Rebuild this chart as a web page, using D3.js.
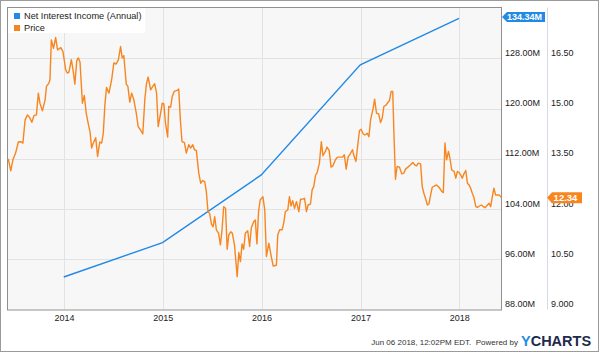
<!DOCTYPE html>
<html>
<head>
<meta charset="utf-8">
<script src="https://cdn.jsdelivr.net/npm/d3@7"></script>
<style>
  body { margin: 0; background: #fff; }
  text { font-family: "Liberation Sans", Arial, sans-serif; }
</style>
</head>
<body>
<script>
// annual net interest income (millions), plotted at fiscal year end
var niiDates = ['2013-12-31', '2014-12-31', '2015-12-31', '2016-12-31', '2017-12-31'];
var niiValues = [93.18, 98.65, 109.43, 126.96, 134.34];

// share price
var priceDates = [
  '2013-06-09','2013-06-18','2013-06-26','2013-07-06','2013-07-16','2013-07-25','2013-08-02','2013-08-10',
  '2013-08-19','2013-08-27','2013-09-04','2013-09-12','2013-09-21','2013-09-28','2013-10-04','2013-10-13',
  '2013-10-23','2013-10-28','2013-11-06','2013-11-10','2013-11-15','2013-11-23','2013-12-01','2013-12-08',
  '2013-12-20','2013-12-28','2014-01-07','2014-01-13','2014-01-19','2014-01-28','2014-02-04','2014-02-10',
  '2014-02-17','2014-02-23','2014-03-01','2014-03-10','2014-03-17','2014-03-24','2014-04-01','2014-04-07',
  '2014-04-13','2014-04-19','2014-04-28','2014-05-05','2014-05-13','2014-05-20','2014-05-26','2014-06-01',
  '2014-06-07','2014-06-16','2014-06-26','2014-07-04','2014-07-13','2014-07-21','2014-07-29','2014-08-04',
  '2014-08-10','2014-08-19','2014-08-25','2014-09-01','2014-09-08','2014-09-16','2014-09-25','2014-10-02',
  '2014-10-11','2014-10-19','2014-10-27','2014-11-02','2014-11-08','2014-11-17','2014-11-25','2014-12-02',
  '2014-12-09','2014-12-15','2014-12-24','2014-12-30','2015-01-05','2015-01-11','2015-01-19','2015-01-23',
  '2015-01-30','2015-02-05','2015-02-12','2015-02-23','2015-03-01','2015-03-07','2015-03-13','2015-03-22',
  '2015-03-29','2015-04-07','2015-04-14','2015-04-22','2015-04-28','2015-05-05','2015-05-14','2015-05-21',
  '2015-05-28','2015-06-05','2015-06-11','2015-06-17','2015-06-23','2015-06-30','2015-07-06','2015-07-12',
  '2015-07-18','2015-07-26','2015-08-02','2015-08-08','2015-08-14','2015-08-21','2015-08-27','2015-09-02',
  '2015-09-09','2015-09-15','2015-09-23','2015-10-03','2015-10-09','2015-10-15','2015-10-21','2015-10-27',
  '2015-11-02','2015-11-11','2015-11-18','2015-11-24','2015-12-03','2015-12-09','2015-12-15','2015-12-21',
  '2015-12-27','2016-01-06','2016-01-13','2016-01-19','2016-01-28','2016-02-06','2016-02-13','2016-02-25',
  '2016-03-01','2016-03-08','2016-03-17','2016-03-23','2016-03-29','2016-04-07','2016-04-13','2016-04-19',
  '2016-04-25','2016-05-02','2016-05-09','2016-05-18','2016-05-24','2016-06-03','2016-06-08','2016-06-15',
  '2016-06-21','2016-06-30','2016-07-06','2016-07-12','2016-07-19','2016-07-24','2016-08-02','2016-08-09',
  '2016-08-15','2016-08-24','2016-08-30','2016-09-07','2016-09-14','2016-09-21','2016-09-30','2016-10-08',
  '2016-10-18','2016-10-27','2016-11-02','2016-11-09','2016-11-16','2016-11-24','2016-12-02','2016-12-09',
  '2016-12-15','2016-12-21','2016-12-28','2017-01-03','2017-01-11','2017-01-17','2017-01-26','2017-02-01',
  '2017-02-07','2017-02-16','2017-02-22','2017-03-01','2017-03-09','2017-03-16','2017-03-22','2017-03-28',
  '2017-04-06','2017-04-12','2017-04-18','2017-04-24','2017-04-30','2017-05-04','2017-05-10','2017-05-16',
  '2017-05-25','2017-06-02','2017-06-10','2017-06-16','2017-06-25','2017-07-05','2017-07-13','2017-07-20',
  '2017-07-27','2017-08-02','2017-08-11','2017-08-17','2017-08-23','2017-08-29','2017-09-05','2017-09-11',
  '2017-09-17','2017-09-23','2017-10-02','2017-10-09','2017-10-18','2017-10-27','2017-11-03','2017-11-09',
  '2017-11-15','2017-11-22','2017-11-28','2017-12-04','2017-12-13','2017-12-19','2017-12-25','2017-12-31',
  '2018-01-06','2018-01-12','2018-01-18','2018-01-25','2018-01-31','2018-02-06','2018-02-12','2018-02-18',
  '2018-02-24','2018-03-03','2018-03-09','2018-03-17','2018-03-24','2018-03-31','2018-04-06','2018-04-15',
  '2018-04-21','2018-04-27','2018-05-03','2018-05-09','2018-05-15','2018-05-22','2018-05-28','2018-06-03',
  '2018-06-06'
];
var priceValues = [
  13.50,13.14,13.47,13.67,14.00,14.01,13.97,14.66,
  14.81,14.73,14.59,14.79,14.81,15.46,15.16,14.93,
  15.26,15.66,15.76,15.86,17.05,16.80,17.12,16.75,
  16.82,16.70,16.16,16.06,16.09,16.46,16.11,15.73,
  16.43,16.51,16.39,15.16,15.39,14.86,14.53,14.31,
  13.82,13.97,14.13,13.57,14.00,13.97,14.26,15.11,
  15.63,15.46,15.86,16.36,16.33,16.46,16.85,16.51,
  16.58,15.73,15.66,15.19,15.46,15.26,14.86,14.46,
  14.36,14.24,15.31,15.76,15.94,15.56,15.66,15.74,
  15.46,14.46,14.86,15.16,15.14,14.56,14.15,15.06,
  15.04,15.36,15.51,15.54,15.58,14.66,14.01,13.98,
  13.67,13.92,13.82,13.92,13.77,13.75,13.07,12.77,
  12.85,12.82,12.52,11.92,11.87,11.55,11.47,11.77,
  11.38,11.28,10.93,11.38,12.07,12.02,10.80,11.23,
  11.32,11.28,10.93,9.98,10.70,10.43,10.96,10.80,
  11.28,11.35,10.88,11.43,11.62,11.67,10.96,11.92,
  12.27,12.37,11.97,10.58,10.98,10.58,10.30,10.32,
  11.23,11.38,11.38,11.58,11.92,11.97,12.37,12.09,
  12.25,12.02,12.22,11.92,12.29,12.30,12.32,11.92,
  12.12,12.15,12.57,12.67,13.02,13.07,13.37,14.01,
  13.59,13.72,13.85,13.75,13.25,13.29,13.47,13.55,
  13.55,13.55,13.62,13.19,13.55,13.65,13.77,13.55,
  13.42,13.86,14.34,14.38,14.24,14.21,14.26,14.16,
  14.66,14.98,15.28,14.86,14.84,14.58,14.71,15.06,
  15.11,15.18,15.24,15.51,15.51,14.36,12.89,13.27,
  13.25,13.05,13.07,13.19,13.25,13.32,13.39,13.32,
  13.29,13.37,13.35,12.67,12.47,12.32,12.12,12.15,
  12.42,12.65,12.69,12.72,12.65,12.54,12.49,13.97,
  13.47,13.72,13.49,13.17,13.12,12.92,13.12,13.09,
  13.02,12.92,13.05,13.15,12.77,12.72,12.62,12.47,
  12.35,12.07,12.05,12.09,12.12,12.07,12.04,12.12,
  12.17,12.07,12.37,12.62,12.42,12.42,12.42,12.37,
  12.34
];

var leftTicks = [88, 96, 104, 112, 120, 128];
var rightTicks = [9, 10.5, 12, 13.5, 15, 16.5];
var seriesNames = ['Net Interest Income (Annual)', 'Price'];
var footerText = 'Jun 06 2018, 12:02PM EDT.  Powered by';

var blue = '#2389e6', orange = '#f7861f';
var pL = 7.5, pR = 501.5, pT = 7.5, pB = 309.5;

var parse = d3.timeParse('%Y-%m-%d');
var nii = niiDates.map(function(d, i){ return {date: parse(d), v: niiValues[i]}; });
var price = priceDates.map(function(d, i){ return {date: parse(d), v: priceValues[i]}; });

var svg = d3.select('body').append('svg')
  .attr('width', 600)
  .attr('height', 353);

// outer frame
svg.append('rect')
  .attr('x', 0.5).attr('y', 0.5)
  .attr('width', 598).attr('height', 351)
  .attr('fill', '#fff').attr('stroke', '#9b9b9b');

// plot background
svg.append('rect')
  .attr('x', pL).attr('y', pT)
  .attr('width', pR - pL).attr('height', pB - pT)
  .attr('fill', '#f7f7f7');

var x = d3.scaleTime()
  .domain([parse('2013-06-06'), parse('2018-06-06')])
  .range([pL, pR]);
var yL = d3.scaleLinear().domain([88, 128]).range([pB, 58.3]);
var yR = d3.scaleLinear().domain([9, 16.5]).range([pB, 58.3]);

// grid
svg.append('g').selectAll('line').data(leftTicks.slice(1))
  .enter().append('line')
  .attr('x1', pL).attr('x2', pR)
  .attr('y1', function(d){ return Math.round(yL(d)) + 0.5; })
  .attr('y2', function(d){ return Math.round(yL(d)) + 0.5; })
  .attr('stroke', '#e2e2e2');

var years = x.ticks(d3.timeYear.every(1));
svg.append('g').selectAll('line').data(years)
  .enter().append('line')
  .attr('x1', function(d){ return Math.round(x(d)) + 0.5; })
  .attr('x2', function(d){ return Math.round(x(d)) + 0.5; })
  .attr('y1', pT).attr('y2', pB)
  .attr('stroke', '#e2e2e2');

// plot border
svg.append('rect')
  .attr('x', pL).attr('y', pT)
  .attr('width', pR - pL).attr('height', pB - pT + 0.5)
  .attr('fill', 'none').attr('stroke', '#8f8f8f');

// separator between the two right axes
svg.append('line')
  .attr('x1', 547.5).attr('x2', 547.5)
  .attr('y1', pT).attr('y2', pB)
  .attr('stroke', '#d3dbe6');

// axes
var xAxis = svg.append('g')
  .attr('transform', 'translate(0,' + (pB + 0.5) + ')')
  .call(d3.axisBottom(x).ticks(d3.timeYear.every(1)).tickFormat(d3.timeFormat('%Y')).tickSize(0).tickPadding(5));

var lAxis = svg.append('g')
  .attr('transform', 'translate(' + pR + ',0)')
  .call(d3.axisRight(yL).tickValues(leftTicks).tickSize(0).tickPadding(3.5)
    .tickFormat(function(d){ return d3.format('.2f')(d) + 'M'; }));

var rAxis = svg.append('g')
  .attr('transform', 'translate(547.5,0)')
  .call(d3.axisRight(yR).tickValues(rightTicks).tickSize(0).tickPadding(3.5)
    .tickFormat(d3.format('.4r')));

[xAxis, lAxis, rAxis].forEach(function(g){
  g.select('.domain').remove();
  g.selectAll('text').attr('fill', '#222').attr('font-size', '9px')
    .attr('font-family', '"Liberation Sans", Arial, sans-serif');
});
lAxis.selectAll('text').attr('dy', -3);
rAxis.selectAll('text').attr('dy', -3);

// lines
var line = function(scale){
  return d3.line().x(function(d){ return x(d.date); }).y(function(d){ return scale(d.v); });
};
svg.append('path').datum(nii)
  .attr('d', line(yL))
  .attr('fill', 'none').attr('stroke', blue).attr('stroke-width', 1.4);
svg.append('path').datum(price)
  .attr('d', line(yR))
  .attr('fill', 'none').attr('stroke', orange).attr('stroke-width', 1.4)
  .attr('stroke-linejoin', 'round');

// legend
svg.append('rect')
  .attr('x', 8).attr('y', 8).attr('width', 137).attr('height', 25)
  .attr('fill', '#fff');
var leg = svg.append('g').selectAll('g').data(seriesNames)
  .enter().append('g')
  .attr('transform', function(d, i){ return 'translate(14,' + (13 + i * 12) + ')'; });
leg.append('rect')
  .attr('width', 6).attr('height', 6)
  .attr('fill', function(d, i){ return i ? orange : blue; });
leg.append('text')
  .attr('x', 10).attr('y', 6.3)
  .attr('font-size', '9.2px').attr('fill', '#222')
  .text(function(d){ return d; });

// last-value flags
var flag = function(x0, x1, cy, h){
  return [[x0, cy], [x0 + 5, cy - h / 2], [x1, cy - h / 2], [x1, cy + h / 2], [x0 + 5, cy + h / 2]];
};
var lastN = nii[nii.length - 1], lastP = price[price.length - 1];
svg.append('polygon')
  .attr('points', flag(502, 545, yL(lastN.v) - 1.5, 10).join(' '))
  .attr('fill', blue);
svg.append('text')
  .attr('x', 524.5).attr('y', yL(lastN.v) + 1.5)
  .attr('text-anchor', 'middle').attr('font-size', '9px').attr('font-weight', 'bold').attr('fill', '#fff')
  .text(d3.format('.2f')(lastN.v) + 'M');
svg.append('polygon')
  .attr('points', flag(547, 582, yR(lastP.v), 11).join(' '))
  .attr('fill', orange);
svg.append('text')
  .attr('x', 565.5).attr('y', yR(lastP.v) + 3.3)
  .attr('text-anchor', 'middle').attr('font-size', '9.5px').attr('font-weight', 'bold').attr('fill', '#fff')
  .text(d3.format('.2f')(lastP.v));

// footer
svg.append('text')
  .attr('x', 518).attr('y', 344.5)
  .attr('text-anchor', 'end').attr('font-size', '8px').attr('fill', '#333')
  .attr('xml:space', 'preserve')
  .text(footerText);
var logo = svg.append('text')
  .attr('x', 521).attr('y', 346)
  .attr('font-size', '14.5px').attr('font-weight', 'bold');
logo.append('tspan').attr('fill', '#1e8fe1').text('Y');
logo.append('tspan').attr('fill', '#1d2b4c').text('CHARTS');
</script>
</body>
</html>
